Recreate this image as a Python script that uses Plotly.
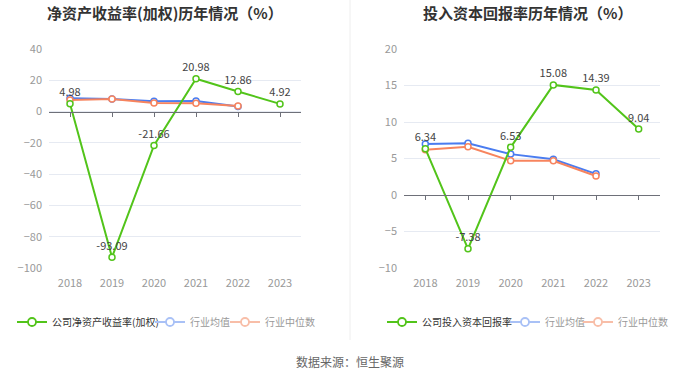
import plotly.graph_objects as go

years = ["2018", "2019", "2020", "2021", "2022", "2023"]
ind_years = ["2018", "2019", "2020", "2021", "2022"]

roe_company = [4.98, -93.09, -21.66, 20.98, 12.86, 4.92]
roe_ind_avg = [8.5, 8.1, 6.6, 6.7, 3.2]
roe_ind_med = [7.4, 8.0, 5.5, 5.3, 3.6]

roic_company = [6.34, -7.38, 6.53, 15.08, 14.39, 9.04]
roic_ind_avg = [7.0, 7.1, 5.6, 4.9, 2.9]
roic_ind_med = [6.2, 6.6, 4.7, 4.7, 2.6]

left_title = "净资产收益率(加权)历年情况（%）"
right_title = "投入资本回报率历年情况（%）"
left_names = ["公司净资产收益率(加权)", "行业均值", "行业中位数"]
right_names = ["公司投入资本回报率", "行业均值", "行业中位数"]
source_text = "数据来源：恒生聚源"

GREEN = "#52c41a"
BLUE = "#4a7cf0"
ORANGE = "#f7845e"
GREEN_L = "#52c41a"
BLUE_L = "#a9c1f6"
ORANGE_L = "#f8bea8"
FONT = "Noto Sans CJK SC"
W, H = 700, 378


def px_x(v):
    return v / W


def px_y(v):
    return 1 - v / H


ydom = [px_y(268), px_y(49)]
xdom_l = [px_x(49), px_x(301)]
xdom_r = [px_x(404), px_x(660)]
rng_l = [-100, 40]
rng_r = [-10, 20]

left_leg_x = [52, 190, 265]
right_leg_x = [422, 545, 618]


def zero_pos(rng):
    return ydom[0] + (0 - rng[0]) / (rng[1] - rng[0]) * (ydom[1] - ydom[0])


fig = go.Figure()


def add_series(xa, ya, comp, avg, med):
    fig.add_trace(go.Scatter(x=ind_years, y=avg, mode="lines+markers", xaxis=xa, yaxis=ya,
                             line=dict(color=BLUE, width=2),
                             marker=dict(symbol="circle", size=6, color="white", line=dict(color=BLUE, width=1.5)),
                             showlegend=False, hoverinfo="skip"))
    fig.add_trace(go.Scatter(x=ind_years, y=med, mode="lines+markers", xaxis=xa, yaxis=ya,
                             line=dict(color=ORANGE, width=2),
                             marker=dict(symbol="circle", size=6, color="white", line=dict(color=ORANGE, width=1.5)),
                             showlegend=False, hoverinfo="skip"))
    fig.add_trace(go.Scatter(x=years, y=comp, mode="lines+markers+text", xaxis=xa, yaxis=ya,
                             line=dict(color=GREEN, width=2),
                             marker=dict(symbol="circle", size=6, color="white", line=dict(color=GREEN, width=1.5)),
                             text=[f"{v:.2f}" for v in comp], textposition="top center",
                             textfont=dict(size=11, color="#444", family=FONT),
                             showlegend=False, hoverinfo="skip"))


add_series("x", "y", roe_company, roe_ind_avg, roe_ind_med)
add_series("x2", "y2", roic_company, roic_ind_avg, roic_ind_med)

fig.add_trace(go.Scatter(x=years, y=[None] * 6, xaxis="x3", yaxis="y", showlegend=False, hoverinfo="skip"))
fig.add_trace(go.Scatter(x=years, y=[None] * 6, xaxis="x4", yaxis="y2", showlegend=False, hoverinfo="skip"))

legends = {}
k = 1
cols = [(GREEN_L, "#333"), (BLUE_L, "#999"), (ORANGE_L, "#999")]
for names, xs, xa, ya in [(left_names, left_leg_x, "x", "y"), (right_names, right_leg_x, "x2", "y2")]:
    for n, (c, tc), p in zip(names, cols, xs):
        lname = "legend" if k == 1 else f"legend{k}"
        fig.add_trace(go.Scatter(x=[None], y=[None], mode="lines+markers", xaxis=xa, yaxis=ya,
                                 name=f"<span style='color:{tc}'>{n}</span>",
                                 line=dict(color=c, width=2),
                                 marker=dict(symbol="circle", size=8, color="white", line=dict(color=c, width=1.8)),
                                 legend=lname, showlegend=True))
        legends[lname] = dict(orientation="h", x=px_x(p - 40), xanchor="left", y=px_y(322),
                              yanchor="middle", font=dict(size=10, family=FONT), itemwidth=30,
                              bgcolor="rgba(0,0,0,0)", borderwidth=0)
        k += 1

xcommon = dict(type="category", categoryorder="array", categoryarray=years, range=[-0.5, 5.5],
               showgrid=False, zeroline=False, showline=False, ticks="", ticklabelstandoff=7,
               tickfont=dict(size=11, color="#999", family=FONT), fixedrange=True)
ycommon = dict(showgrid=True, gridcolor="#e6eaf2", gridwidth=1, zeroline=False, showline=False,
               ticks="", tickfont=dict(size=11, color="#999", family=FONT), ticklabelstandoff=6)
zcommon = dict(type="category", categoryorder="array", categoryarray=years, range=[-0.5, 5.5],
               showgrid=False, zeroline=False, showline=True, linecolor="#6e7079", linewidth=1,
               ticks="outside", ticklen=4, tickcolor="#6e7079", showticklabels=False, anchor="free")

fig.update_layout(
    width=W, height=H, margin=dict(l=0, r=0, t=0, b=0, autoexpand=False),
    paper_bgcolor="white", plot_bgcolor="white",
    font=dict(family=FONT, color="#333"),
    xaxis=dict(domain=xdom_l, anchor="y", **xcommon),
    xaxis2=dict(domain=xdom_r, anchor="y2", **xcommon),
    xaxis3=dict(overlaying="x", position=zero_pos(rng_l), **zcommon),
    xaxis4=dict(overlaying="x2", position=zero_pos(rng_r), **zcommon),
    yaxis=dict(domain=ydom, anchor="x", range=rng_l, dtick=20, **ycommon),
    yaxis2=dict(domain=ydom, anchor="x2", range=rng_r, dtick=5, **ycommon),
    annotations=[
        dict(text=f"<b>{left_title}</b>", x=px_x(165), y=px_y(12), xref="paper", yref="paper",
             showarrow=False, font=dict(size=15, color="#333", family=FONT), xanchor="center", yanchor="middle"),
        dict(text=f"<b>{right_title}</b>", x=px_x(527), y=px_y(12), xref="paper", yref="paper",
             showarrow=False, font=dict(size=15, color="#333", family=FONT), xanchor="center", yanchor="middle"),
        dict(text=source_text, x=px_x(350), y=px_y(361), xref="paper", yref="paper",
             showarrow=False, font=dict(size=12, color="#666", family=FONT), xanchor="center", yanchor="middle"),
    ],
    shapes=[dict(type="line", xref="paper", yref="paper", x0=px_x(350), x1=px_x(350), y0=px_y(340), y1=1,
                 line=dict(color="#eeeeee", width=1))],
    showlegend=True,
    **legends,
)

fig.write_html("out.html", config={"displayModeBar": False},
               post_script="document.body.style.margin='0';document.body.style.overflow='hidden';")
